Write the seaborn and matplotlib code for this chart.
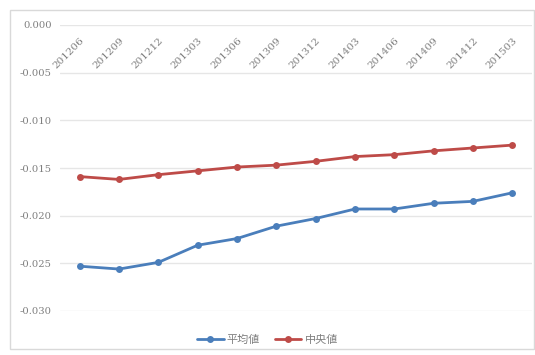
import matplotlib
matplotlib.use("Agg")
import matplotlib.pyplot as plt
import seaborn as sns
import pandas as pd
from matplotlib.patches import Rectangle
from matplotlib.lines import Line2D

periods = ["201206", "201209", "201212", "201303", "201306", "201309",
           "201312", "201403", "201406", "201409", "201412", "201503"]
mean_vals = [-0.0253, -0.0256, -0.0249, -0.0231, -0.0224, -0.0211,
             -0.0203, -0.0193, -0.0193, -0.0187, -0.0185, -0.0176]
median_vals = [-0.0159, -0.0162, -0.0157, -0.0153, -0.0149, -0.0147,
               -0.0143, -0.0138, -0.0136, -0.0132, -0.0129, -0.0126]
series_names = ["平均値", "中央値"]
colors = ["#4A7EBB", "#BE4B48"]
yticks = [0.0, -0.005, -0.010, -0.015, -0.020, -0.025, -0.030]

sns.set_theme(style="white")
plt.rcParams['font.family'] = ['Noto Sans CJK JP', 'DejaVu Sans']

df = pd.DataFrame({
    "period": periods * 2,
    "x": list(range(len(periods))) * 2,
    "value": mean_vals + median_vals,
    "series": [series_names[0]] * len(periods) + [series_names[1]] * len(periods),
})

fig = plt.figure(figsize=(5.35, 3.55), dpi=100)
fig.patch.set_facecolor("white")
fig.add_artist(Rectangle((10 / 535, 6 / 355), 1 - 10 / 535 - 0.002, 1 - 16 / 355,
                         transform=fig.transFigure, fill=False,
                         edgecolor="#d9d9d9", linewidth=1.0))
ax = fig.add_axes([60 / 535, 1 - 311 / 355, 472 / 535, (311 - 25) / 355])

sns.lineplot(data=df, x="x", y="value", hue="series", palette=colors,
             marker="o", markersize=5, markeredgewidth=0, linewidth=2.0,
             ax=ax, legend=False)

ax.set_xlim(-0.5, len(periods) - 0.5)
ax.set_ylim(-0.030, 0.0)
ax.set_yticks(yticks)
ax.set_yticklabels([f"{v:.3f}" for v in yticks],
                   fontfamily="DejaVu Serif", fontsize=7.2, color="#7f7f7f")
ax.yaxis.grid(True, color="#e6e6e6", linewidth=1.0)
ax.xaxis.grid(False)
for s in ax.spines.values():
    s.set_visible(False)
ax.set_xlabel("")
ax.set_ylabel("")
ax.tick_params(axis="y", length=0, pad=6)

ax.set_xticks(range(len(periods)))
ax.xaxis.tick_top()
ax.set_xticklabels(periods, fontfamily="DejaVu Serif", fontsize=7.5,
                   color="#7f7f7f", rotation=45, ha="right", va="top",
                   rotation_mode="anchor")
ax.tick_params(axis="x", length=0, pad=-8)

handles = [Line2D([], [], color=c, marker="o", markersize=5, markeredgewidth=0,
                  linewidth=2.0) for c in colors]
fig.legend(handles, series_names, loc="center", bbox_to_anchor=(0.5, 1 - 340 / 355),
           ncol=2, frameon=False, fontsize=8, labelcolor="#7f7f7f",
           handlelength=2.4, columnspacing=1.3, handletextpad=0.3)

fig.savefig("out.png", dpi=100)
